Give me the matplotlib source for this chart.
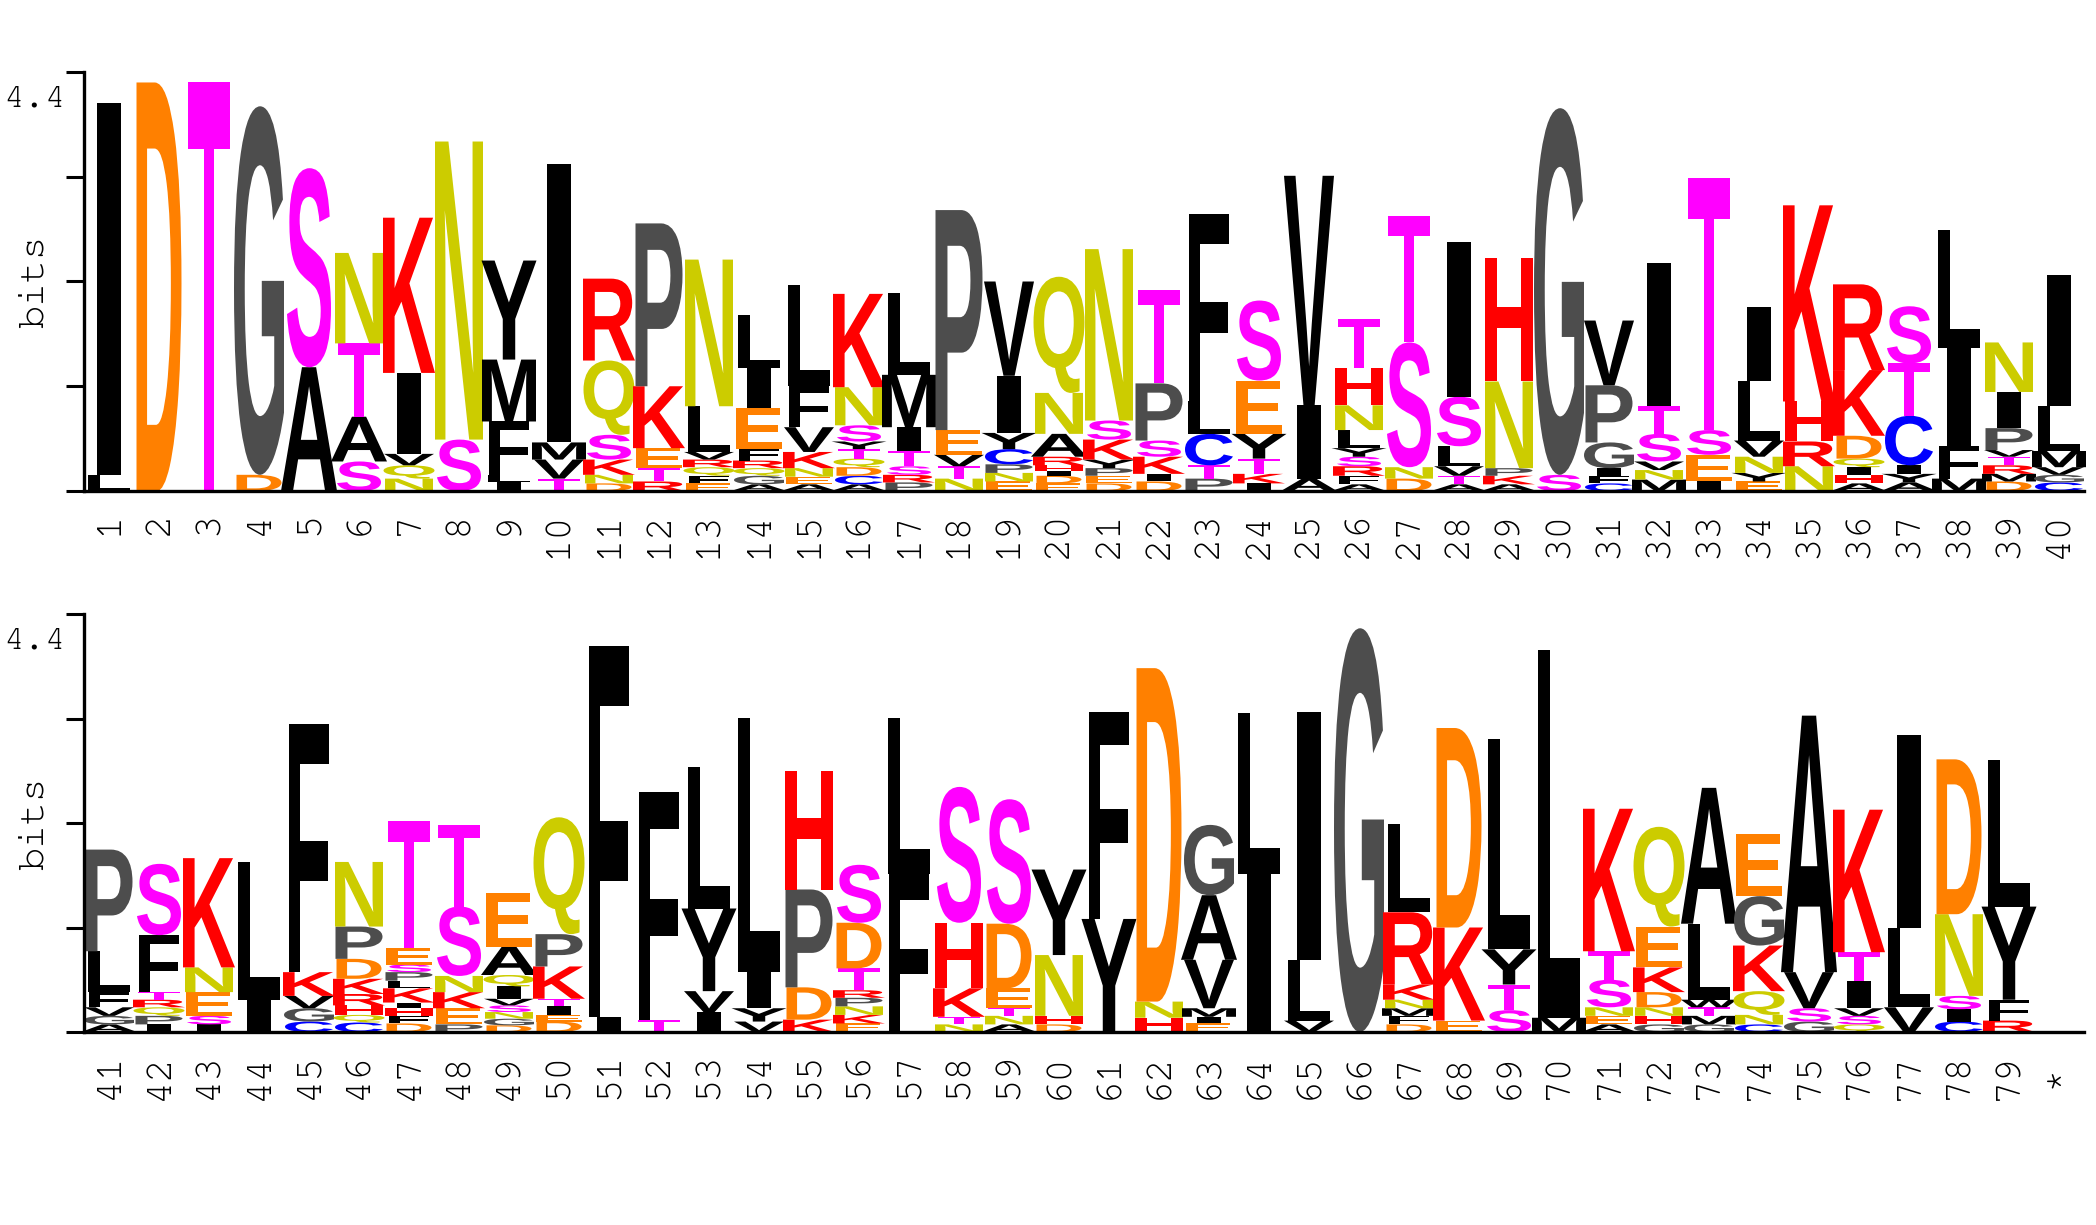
import matplotlib
matplotlib.use('Agg')
import matplotlib.pyplot as plt
from matplotlib.textpath import TextPath
from matplotlib.patches import PathPatch
from matplotlib.font_manager import FontProperties, fontManager
from matplotlib.transforms import Affine2D

# ---------------- data ----------------
position_labels = [str(i) for i in range(1, 80)] + ['*']

# letters of each stack, bottom to top
stack_letters = [
    "LI", "D", "T", "DG", "AS", "SATN", "NQVIK", "SN", "ILFMY", "TVMI",
    "DNKSQR", "RTEKP", "EFQRVLN", "AGQRFEIL", "AENKVFL", "ACDQTYSNK", "PRSTIML", "NTVEP", "ENPCYIV", "EDIHRANQ",
    "DEPYKSN", "DIKSPT", "PTCLF", "IKTYES", "AIV", "AFRSYLNHT", "DNST", "ATVLSI", "AKPNH", "SG",
    "CFIGPV", "MNVSTI", "IEST", "EYNVLI", "NRHK", "AHIQDKR", "AYICTS", "MFIL", "DMRTVPIN", "CGVMLI",
    "AGVFLP", "IPQRTFS", "ISENK", "IL", "CGVKF", "CQHRKDPN", "DFHIKLPSET", "PEKNST", "DGNSVIQAE", "DEITKPQ",
    "IF", "TF", "IVYL", "VYIL", "KDPH", "EKNPRTDS", "FL", "NTKHS", "ANTEDS", "DHNY",
    "YF", "HND", "EIMVAG", "IL", "VLI", "G", "DFMNKRL", "EKD", "STYL", "ML",
    "AENSTK", "GHNDKEQ", "GMTWLA", "CNQKGE", "GSVA", "QSVITK", "VLI", "CISND", "RFYL", "",
]

# letter heights in bits, bottom to top
stack_heights = [
    [0.17, 3.90], [4.29], [4.29], [0.17, 3.87], [1.30, 2.09],
    [0.31, 0.47, 0.77, 0.95], [0.13, 0.14, 0.12, 0.85, 1.63], [0.54, 3.13],
    [0.09, 0.08, 0.56, 0.65, 1.04], [0.13, 0.20, 0.18, 2.92],
    [0.08, 0.09, 0.16, 0.26, 0.78, 0.86], [0.10, 0.14, 0.21, 0.65, 1.71],
    [0.08, 0.08, 0.09, 0.08, 0.08, 0.48, 1.54], [0.07, 0.09, 0.08, 0.08, 0.12, 0.43, 0.42, 0.56],
    [0.07, 0.08, 0.09, 0.17, 0.26, 0.43, 1.06], [0.07, 0.09, 0.09, 0.09, 0.10, 0.08, 0.17, 0.40, 0.98],
    [0.09, 0.08, 0.09, 0.16, 0.25, 0.55, 0.86], [0.13, 0.13, 0.12, 0.26, 2.31],
    [0.10, 0.09, 0.09, 0.16, 0.17, 0.60, 0.99], [0.08, 0.08, 0.05, 0.06, 0.09, 0.24, 0.43, 1.22],
    [0.08, 0.08, 0.08, 0.09, 0.21, 0.20, 1.80], [0.10, 0.08, 0.18, 0.17, 0.60, 0.98],
    [0.13, 0.14, 0.33, 0.34, 1.97], [0.08, 0.10, 0.16, 0.26, 0.56, 0.84],
    [0.13, 0.77, 2.41], [0.07, 0.09, 0.10, 0.10, 0.09, 0.19, 0.26, 0.39, 0.52],
    [0.13, 0.12, 1.31, 1.33], [0.07, 0.09, 0.10, 0.21, 0.52, 1.62],
    [0.07, 0.09, 0.08, 0.91, 1.30], [0.17, 3.85],
    [0.08, 0.08, 0.08, 0.27, 0.60, 0.68], [0.12, 0.10, 0.09, 0.29, 0.29, 1.50],
    [0.10, 0.28, 0.26, 2.65], [0.10, 0.09, 0.17, 0.17, 0.62, 0.78],
    [0.26, 0.26, 0.42, 2.06], [0.08, 0.09, 0.08, 0.09, 0.24, 0.69, 0.90],
    [0.09, 0.09, 0.09, 0.52, 0.55, 0.60], [0.13, 0.34, 1.03, 1.24],
    [0.10, 0.08, 0.09, 0.09, 0.07, 0.23, 0.38, 0.52], [0.09, 0.08, 0.08, 0.17, 0.47, 1.38],
    [0.08, 0.09, 0.09, 0.16, 0.43, 1.07], [0.08, 0.09, 0.09, 0.08, 0.08, 0.60, 0.75],
    [0.08, 0.09, 0.25, 0.26, 1.15], [0.34, 1.45], [0.11, 0.14, 0.13, 0.25, 2.61],
    [0.10, 0.08, 0.10, 0.12, 0.16, 0.21, 0.34, 0.68],
    [0.09, 0.08, 0.08, 0.06, 0.15, 0.08, 0.09, 0.08, 0.17, 1.34],
    [0.08, 0.17, 0.17, 0.17, 0.73, 0.86],
    [0.07, 0.07, 0.07, 0.07, 0.07, 0.13, 0.12, 0.30, 0.56],
    [0.11, 0.07, 0.09, 0.08, 0.34, 0.34, 1.23],
    [0.16, 3.90], [0.13, 2.40], [0.21, 0.22, 0.87, 1.49], [0.11, 0.14, 0.38, 2.68],
    [0.13, 0.34, 1.03, 1.25], [0.09, 0.09, 0.09, 0.09, 0.08, 0.23, 0.48, 0.61],
    [1.66, 1.65], [0.08, 0.08, 0.30, 0.69, 1.43], [0.08, 0.09, 0.08, 0.21, 0.68, 1.31],
    [0.08, 0.09, 0.64, 0.90],
    [1.19, 2.18], [0.15, 0.17, 3.51], [0.09, 0.07, 0.09, 0.51, 0.68, 0.74], [1.66, 1.70],
    [0.12, 0.64, 2.61], [4.25], [0.08, 0.09, 0.08, 0.09, 0.16, 0.76, 0.93], [0.12, 0.98, 2.10],
    [0.23, 0.27, 0.37, 2.21], [0.15, 3.87],
    [0.08, 0.09, 0.09, 0.29, 0.30, 1.50], [0.08, 0.09, 0.09, 0.16, 0.26, 0.43, 1.05],
    [0.08, 0.09, 0.09, 0.08, 0.80, 1.43], [0.08, 0.10, 0.25, 0.48, 0.52, 0.65],
    [0.11, 0.14, 0.38, 2.70], [0.08, 0.09, 0.08, 0.29, 0.30, 1.50], [0.26, 0.84, 2.03],
    [0.11, 0.13, 0.14, 0.86, 1.63], [0.12, 0.22, 0.98, 1.54], [],
]

y_max = 4.4
y_ticks = [0, 1.1, 2.2, 3.3, 4.4]
y_top_label = '4.4'
y_axis_title = 'bits'

# ---------------- style ----------------
BLACK, GRAY, ORANGE, MAGENTA, OLIVE, RED, BLUE = (
    '#000000', '#4D4D4D', '#FF8000', '#FF00FF', '#CCCC00', '#FF0000', '#0000FF')
COLORS = {}
for c in "AFILMVWY":
    COLORS[c] = BLACK
for c in "GP":
    COLORS[c] = GRAY
for c in "DE":
    COLORS[c] = ORANGE
for c in "ST":
    COLORS[c] = MAGENTA
for c in "NQ":
    COLORS[c] = OLIVE
for c in "HKR":
    COLORS[c] = RED
COLORS['C'] = BLUE

WIDTH = {'I': 0.47, 'L': 0.83, 'T': 0.83, 'F': 0.80, 'E': 0.92, 'S': 0.88, 'D': 0.90,
         'N': 0.96, 'K': 1.04, 'R': 1.04, 'H': 0.96, 'C': 0.96, 'P': 0.94, 'V': 1.0,
         'Y': 1.10, 'M': 1.08, 'A': 1.12, 'G': 1.0, 'Q': 1.02, 'W': 1.12}

glyph_font = FontProperties(family='Liberation Sans', weight='bold')
installed = {f.name for f in fontManager.ttflist}
mono = 'Liberation Mono'
for cand in ('Nimbus Mono PS', 'FreeMono', 'Courier New', 'Courier'):
    if cand in installed:
        mono = cand
        break

_cache = {}


def glyph(ch):
    if ch not in _cache:
        p = TextPath((0, 0), ch, size=1, prop=glyph_font)
        _cache[ch] = (p, p.get_extents())
    return _cache[ch]


def draw_letter(ax, ch, xc, y0, h):
    path, ext = glyph(ch)
    w = WIDTH.get(ch, 0.96)
    t = (Affine2D().translate(-ext.x0, -ext.y0)
         .scale(w / ext.width, h / ext.height)
         .translate(xc - w / 2.0, y0))
    ax.add_patch(PathPatch(t.transform_path(path), facecolor=COLORS[ch],
                           edgecolor='none', lw=0, clip_on=False))


W, H = 2096, 1225
fig = plt.figure(figsize=(W / 100, H / 100), dpi=100)

panels = [(72, 491), (614, 1032)]
for row, (ytop, ybot) in enumerate(panels):
    ax = fig.add_axes([84 / W, 1 - ybot / H, 2000 / W, (ybot - ytop) / H])
    ax.set_xlim(0.5, 40.5)
    ax.set_ylim(0, y_max)
    for s in ('top', 'right'):
        ax.spines[s].set_visible(False)
    for s in ('left', 'bottom'):
        ax.spines[s].set_linewidth(2.4)
    ax.set_yticks(y_ticks)
    ax.set_yticklabels([''] * len(y_ticks))
    ax.tick_params(axis='y', length=13, width=2.2, direction='out')
    idx = list(range(row * 40, row * 40 + 40))
    ax.set_xticks([i - row * 40 + 1 for i in idx])
    labels = [position_labels[i] if position_labels[i] != '*' else '' for i in idx]
    ax.set_xticklabels(labels, rotation=90, fontsize=28, family=mono)
    ax.tick_params(axis='x', length=0, pad=15)
    for i in idx:
        xc = i - row * 40 + 1
        if position_labels[i] == '*':
            ax.text(xc, -0.47, '*', rotation=90, ha='center', va='center',
                    fontsize=28, family=mono, clip_on=False)
        y = 0.0
        for ch, h in zip(stack_letters[i], stack_heights[i]):
            draw_letter(ax, ch, xc, y, h)
            y += h
    fig.text(66 / W, 1 - (ytop + 27) / H, y_top_label, ha='right', va='center',
             fontsize=25, family=mono)
    fig.text(34 / W, 1 - ((ytop + ybot) / 2) / H, y_axis_title, rotation=90,
             ha='center', va='center', fontsize=28, family=mono)

fig.savefig('out.png', dpi=100)
